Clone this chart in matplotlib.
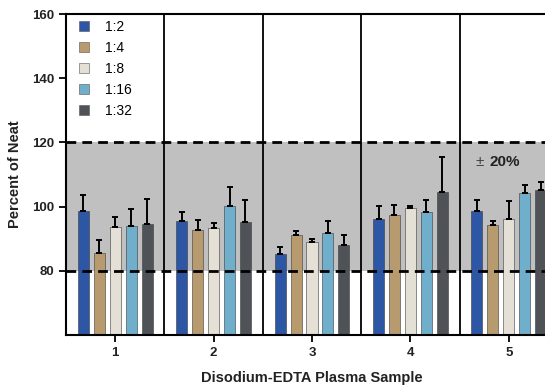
import matplotlib
matplotlib.use("Agg")
import matplotlib.pyplot as plt
import numpy as np
from matplotlib.lines import Line2D

plt.rcParams['font.family'] = ['Liberation Sans', 'DejaVu Sans']

samples = ["1", "2", "3", "4", "5"]
dilutions = ["1:2", "1:4", "1:8", "1:16", "1:32"]
colors = ["#2D56A4", "#B79B6F", "#E4E0D6", "#6FAFCB", "#4F5358"]

means = {
    "1:2":  [98.7, 95.5, 85.1, 96.2, 98.7],
    "1:4":  [85.6, 92.7, 91.3, 97.4, 94.3],
    "1:8":  [93.5, 93.3, 89.0, 99.5, 96.2],
    "1:16": [94.0, 100.1, 91.7, 98.3, 104.2],
    "1:32": [94.7, 95.2, 88.0, 104.4, 105.2],
}
errs = {
    "1:2":  [5.0, 2.8, 2.3, 3.9, 3.3],
    "1:4":  [4.0, 3.0, 1.0, 3.0, 1.1],
    "1:8":  [3.3, 1.6, 1.0, 0.8, 5.7],
    "1:16": [5.1, 6.1, 3.8, 3.8, 2.4],
    "1:32": [7.7, 6.8, 3.2, 10.9, 2.4],
}

fig = plt.figure(figsize=(5.45, 3.88), dpi=100)
ax = fig.add_axes([66/545, 1-335/388, (558-66)/545, (335-14)/388])

x = np.arange(1, len(samples)+1)
width = 0.112
step = 0.162
ax.axhspan(80, 120, color="#c0c0c0", zorder=0, lw=0)
for i, d in enumerate(dilutions):
    off = (i - 2) * step
    ax.bar(x + off, means[d], width, bottom=0, color=colors[i],
           edgecolor="#3a3a3a", linewidth=0.4, zorder=2, label=d)
    ax.errorbar(x + off, means[d], yerr=[np.zeros(len(x)), errs[d]], fmt="none",
                ecolor="black", elinewidth=1.4, capsize=2.5, capthick=1.4, zorder=3)

ax.axhline(80, color="black", ls=(0, (3.5, 2.2)), lw=2, zorder=4)
ax.axhline(120, color="black", ls=(0, (3.5, 2.2)), lw=2, zorder=4)
for s in [1.5, 2.5, 3.5, 4.5]:
    ax.axvline(s, color="black", lw=1.3, zorder=4)

ax.text(4.66, 114, "±", ha="left", va="center", fontsize=11,
        color="#444444", zorder=5)
ax.text(4.80, 114, "20%", ha="left", va="center", fontsize=11,
        fontweight="bold", color="#222222", zorder=5)

ax.set_ylim(60, 160)
ax.set_xlim(0.5, 5.5)
ax.set_yticks([80, 100, 120, 140, 160])
ax.set_xticks(x)
ax.set_xticklabels(samples)
for lab in ax.get_xticklabels() + ax.get_yticklabels():
    lab.set_fontweight("bold")
    lab.set_fontsize(9.5)
    lab.set_color("#222222")
ax.tick_params(axis="both", direction="out", length=5, width=1.3)
for sp in ["left", "bottom", "top"]:
    ax.spines[sp].set_linewidth(1.5)
ax.spines["right"].set_visible(False)

ax.set_xlabel("Disodium-EDTA Plasma Sample", fontsize=10.5, fontweight="bold",
              color="#222222", labelpad=9)
ax.set_ylabel("Percent of Neat", fontsize=10.5, fontweight="bold",
              color="#222222", labelpad=7)

handles = [Line2D([0], [0], marker="s", ls="none", markersize=7,
                  markerfacecolor=c, markeredgecolor="#555555", markeredgewidth=0.4)
           for c in colors]
ax.legend(handles, dilutions, loc="upper left", frameon=False, fontsize=10,
          handlelength=1.0, handletextpad=1.0, labelspacing=0.5,
          borderaxespad=0.05, bbox_to_anchor=(0.01, 1.0))

fig.savefig("out.png", dpi=100)
